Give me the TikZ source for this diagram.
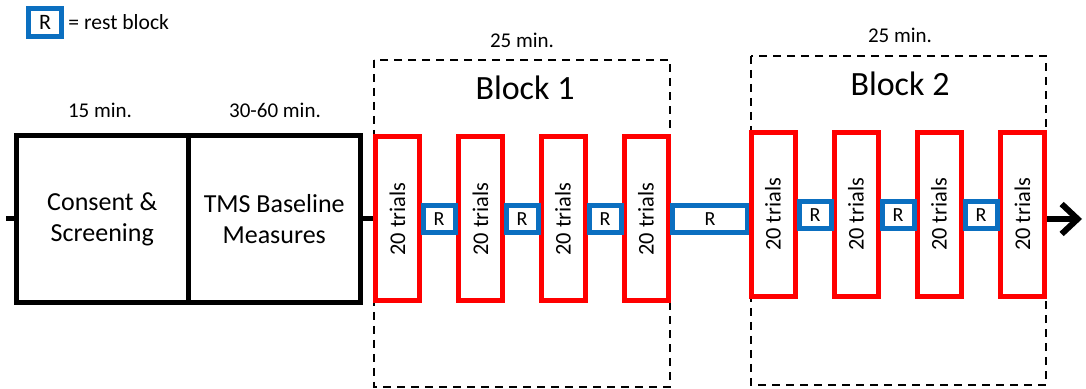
\documentclass[tikz,border=0pt]{standalone}
\usepackage{fontspec}
\setmainfont{Carlito}
\usepackage{tikz}
\usetikzlibrary{positioning, arrows.meta}

\begin{document}
\begin{tikzpicture}[x=0.5pt, y=-0.5pt,
  stagebox/.style={draw=black, line width=2.5pt, minimum width=86pt, minimum height=83.5pt,
    inner sep=0pt, align=center, font=\fontsize{13}{15.5}\selectfont},
  trialbox/.style={draw=trialRed, line width=2.5pt, rotate=90, minimum width=82pt,
    minimum height=22pt, inner sep=0pt, font=\fontsize{11.2}{13}\selectfont},
  restbox/.style={draw=restBlue, fill=white, line width=2.5pt, minimum width=16pt,
    minimum height=13.5pt, inner sep=0pt, font=\fontsize{10}{12}\selectfont},
  blockframe/.style={draw=black, line width=1pt, dash pattern=on 4pt off 3pt},
  timelabel/.style={font=\fontsize{10.5}{12.5}\selectfont},
  blocktitle/.style={font=\fontsize{17}{20}\selectfont},
  ]

\definecolor{trialRed}{HTML}{FF0000}
\definecolor{restBlue}{HTML}{0B6FC0}

\useasboundingbox (0,0) rectangle (1086,389);

% legend
\node[restbox, minimum width=16.5pt, minimum height=14pt, font=\fontsize{11}{13}\selectfont] (key) at (45,22.5) {R};
\node[right=2pt of key, inner sep=0pt, font=\fontsize{10.8}{13}\selectfont] (keytext) {= rest block};

% ===== screening + baseline =====
\node[stagebox] (consent) at (102.25,219) {Consent \&\\Screening};
\node[stagebox] (tms) at (274.25,219) {TMS Baseline\\Measures};
\node[timelabel] (tconsent) at (100,110) {15 min.};
\node[timelabel] (ttms) at (275,110) {30-60 min.};

% ===== Block 1 =====
\draw[blockframe] (374,60) rectangle (670,387);
\node[timelabel] (tblock1) at (522,40) {25 min.};
\node[blocktitle] (block1) at (525,88) {Block 1};
\foreach \x [count=\i] in {397.5,480.5,563,646}
  \node[trialbox] (ta\i) at (\x,219) {20 trials};
\foreach \x [count=\i] in {439,522,605}
  \node[restbox] (ra\i) at (\x,219) {R};
\node[restbox, minimum width=37.5pt] (rlong) at (710,219) {R};

% ===== Block 2 =====
\draw[blockframe] (751,56) rectangle (1046,385);
\node[timelabel] (tblock2) at (900,35) {25 min.};
\node[blocktitle] (block2) at (900,84) {Block 2};
\foreach \x [count=\i] in {773,856,939,1022.5}
  \node[trialbox] (tb\i) at (\x,214.5) {20 trials};
\foreach \x [count=\i] in {815,898,981}
  \node[restbox] (rb\i) at (\x,215) {R};

% timeline
\coordinate (start) at (6,219);
\coordinate (finish) at (1082,219);
\draw[line width=2.5pt] (start) -- (consent.west);
\draw[line width=2.5pt] (tms.east) -- (ta1.north);
\draw[line width=3pt, -{Straight Barb[length=8pt, width=15pt]}] (tb4.south |- finish) -- (finish);

\end{tikzpicture}
\end{document}
